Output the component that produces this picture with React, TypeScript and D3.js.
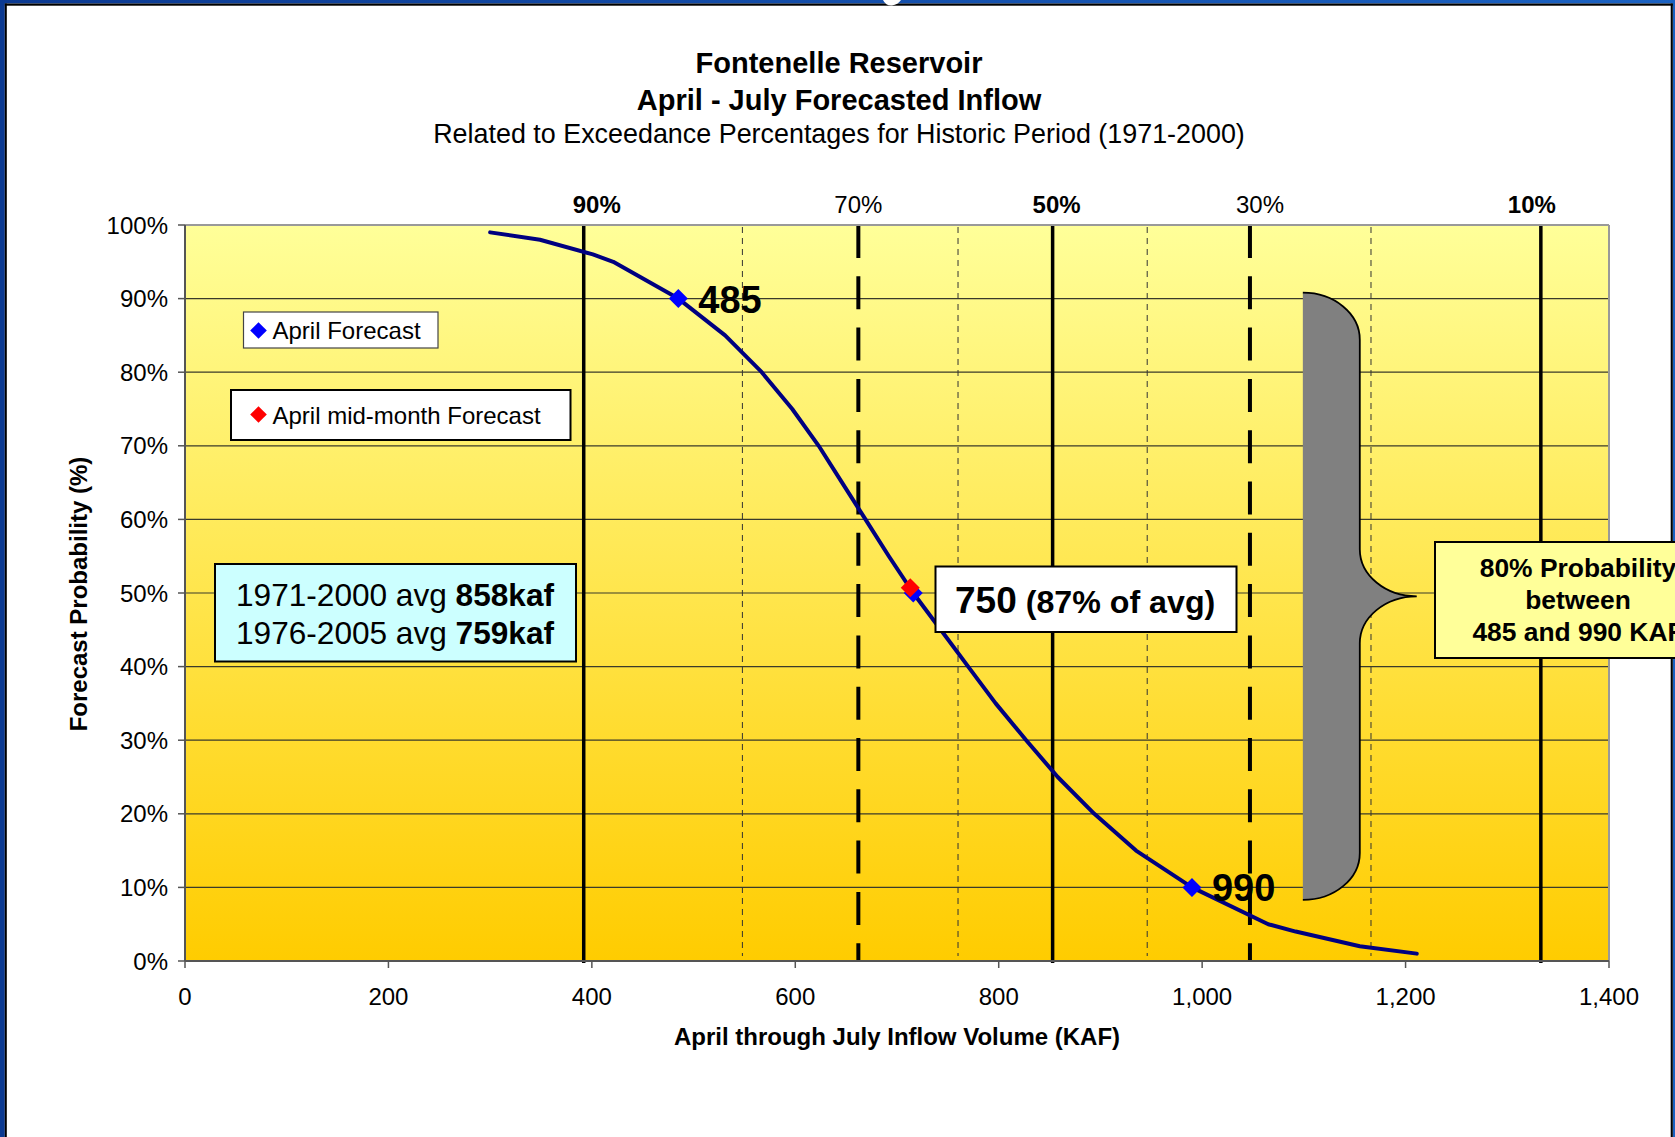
import React from 'react';
import * as d3 from 'd3';

// Exceedance curve: April–July inflow volume (KAF) by exceedance probability (%)
const exceedancePct = [99, 98, 96, 95, 90, 85, 80, 75, 70, 65, 60, 55, 50, 45, 40, 35, 30, 25, 20, 15, 10, 5, 4, 2, 1];
const inflowKaf = [300, 349, 401, 421, 485, 531, 567, 597, 623, 646, 669, 692, 716, 743, 770, 797, 827, 858, 894, 935, 990, 1065, 1092, 1155, 1211];

// April forecast points (blue) and April mid-month forecast (red)
const aprilForecastKaf = [485, 716, 990];
const aprilForecastPct = [90, 50, 10];
const aprilLabelText = ['485', '', '990'];
const midMonthKaf = [713];
const midMonthPct = [50.7];

// Historic exceedance reference lines (1971-2000)
const refPct = [90, 80, 70, 60, 50, 40, 30, 20, 10];
const refKaf = [392, 548, 662, 760, 853, 946, 1047, 1166, 1333];

const xTicks = [0, 200, 400, 600, 800, 1000, 1200, 1400];
const yTicks = [0, 10, 20, 30, 40, 50, 60, 70, 80, 90, 100];

// Range bracket spanning the 90%..10% forecasts (kaf / pct)
const braceKaf = [1099, 1155, 1211];
const bracePct = [90.8, 8.3];

const W = 1675;
const H = 1137;
const M = { left: 185, right: 1609, top: 225, bottom: 961 };
const FONT = '"Liberation Sans", Arial, Helvetica, sans-serif';

const refStyle = (p: number) =>
  p === 90 || p === 50 || p === 10 ? 'solid' : p === 70 || p === 30 ? 'heavy' : 'light';
const topLabelShift: Record<number, number> = { 90: 13, 70: 0, 50: 4, 30: 10, 10: -9 };

function Diamond({ cx, cy, r, fill }: { cx: number; cy: number; r: number; fill: string }) {
  return <path d={`M${cx},${cy - r}L${cx + r},${cy}L${cx},${cy + r}L${cx - r},${cy}Z`} fill={fill} />;
}

export default function App() {
  const x = d3.scaleLinear().domain([0, 1400]).range([M.left, M.right]);
  const y = d3.scaleLinear().domain([0, 100]).range([M.bottom, M.top]);

  const curve = d3
    .line<number>()
    .x((_, i) => x(inflowKaf[i]))
    .y((d) => y(d))(exceedancePct) as string;

  // bracket geometry
  const bx0 = x(braceKaf[0]);
  const bx1 = x(braceKaf[1]);
  const bx2 = x(braceKaf[2]);
  const by0 = y(bracePct[0]);
  const by1 = y(bracePct[1]);
  const bym = (by0 + by1) / 2;
  const rx = bx1 - bx0;
  const ry = 47;
  const braceOutline =
    `M${bx0},${by0} A${rx},${ry} 0 0 1 ${bx1},${by0 + ry} L${bx1},${bym - ry} ` +
    `A${bx2 - bx1},${ry} 0 0 0 ${bx2},${bym} A${bx2 - bx1},${ry} 0 0 0 ${bx1},${bym + ry} ` +
    `L${bx1},${by1 - ry} A${rx},${ry} 0 0 1 ${bx0},${by1}`;

  const fmt = d3.format(',');

  return (
    <svg
      width={W}
      height={H}
      viewBox={`0 0 ${W} ${H}`}
      style={{ position: 'absolute', left: 0, top: 0, background: '#fff' }}
      fontFamily={FONT}
    >
      <defs>
        <linearGradient id="plotBg" x1="0" y1="0" x2="0" y2="1">
          <stop offset="0" stopColor="#FFFF99" />
          <stop offset="1" stopColor="#FFCC00" />
        </linearGradient>
        <linearGradient id="frameBlue" x1="0" y1="0" x2="1" y2="0">
          <stop offset="0" stopColor="#0C3A92" />
          <stop offset="1" stopColor="#1B62C2" />
        </linearGradient>
      </defs>

      <rect x={0} y={0} width={W} height={H} fill="#fff" />

      {/* slide frame */}
      <rect x={0} y={0} width={W} height={3.5} fill="url(#frameBlue)" />
      <rect x={0} y={0} width={4.8} height={H} fill="#0C3A92" />
      <rect x={1672.8} y={0} width={3} height={H} fill="#1B62C2" />
      <rect x={4.8} y={3.5} width={W - 4.8 - 2.2} height={2.2} fill="#000" />
      <rect x={4.8} y={3.5} width={2} height={H} fill="#000" />
      <rect x={1670.7} y={3.5} width={2.1} height={H} fill="#000" />
      <path d="M883,0 Q886,6 892,5.5 Q898,4.5 901,0 Z" fill="#fff" />

      {/* titles */}
      <text x={839} y={72.5} textAnchor="middle" fontSize={29} fontWeight="bold">
        Fontenelle Reservoir
      </text>
      <text x={839} y={109.5} textAnchor="middle" fontSize={29} fontWeight="bold">
        April - July Forecasted Inflow
      </text>
      <text x={839} y={143} textAnchor="middle" fontSize={26.9}>
        Related to Exceedance Percentages for Historic Period (1971-2000)
      </text>

      {/* plot area */}
      <rect x={M.left} y={M.top} width={M.right - M.left} height={M.bottom - M.top} fill="url(#plotBg)" />

      {yTicks.map((t) => (
        <line key={`g${t}`} x1={M.left} x2={M.right} y1={y(t)} y2={y(t)} stroke="#3a3a2a" strokeWidth={1.2} />
      ))}

      {/* exceedance reference lines */}
      {refPct.map((p, i) => {
        const s = refStyle(p);
        const xx = x(refKaf[i]);
        if (s === 'light')
          return (
            <line key={`r${p}`} x1={xx} x2={xx} y1={M.top + 2} y2={M.bottom - 5} stroke="#333" strokeWidth={1} strokeDasharray="6,5" />
          );
        return (
          <line
            key={`r${p}`}
            x1={xx}
            x2={xx}
            y1={M.top}
            y2={M.bottom + (s === 'solid' ? 2 : 0)}
            stroke="#000"
            strokeWidth={s === 'solid' ? 3.5 : 4}
            strokeDasharray={s === 'heavy' ? '33,18.3' : undefined}
          />
        );
      })}
      {refPct.map((p, i) => {
        const s = refStyle(p);
        if (s === 'light') return null;
        return (
          <text
            key={`rl${p}`}
            x={x(refKaf[i]) + topLabelShift[p]}
            y={213}
            textAnchor="middle"
            fontSize={24}
            fontWeight={s === 'solid' ? 'bold' : 'normal'}
          >
            {p}%
          </text>
        );
      })}

      {/* plot border and axes */}
      <line x1={M.left} x2={M.right} y1={M.top} y2={M.top} stroke="#999" strokeWidth={2} />
      <line x1={M.right} x2={M.right} y1={M.top} y2={M.bottom} stroke="#999" strokeWidth={2} />
      <line x1={M.left} x2={M.left} y1={M.top} y2={M.bottom} stroke="#555" strokeWidth={2} />
      <line x1={M.left} x2={M.right} y1={M.bottom} y2={M.bottom} stroke="#555" strokeWidth={2} />

      {yTicks.map((t) => (
        <g key={`yt${t}`}>
          <line x1={M.left - 7} x2={M.left} y1={y(t)} y2={y(t)} stroke="#555" strokeWidth={1.5} />
          <text x={168} y={y(t) + 8.5} textAnchor="end" fontSize={24}>
            {t}%
          </text>
        </g>
      ))}
      {xTicks.map((t) => (
        <g key={`xt${t}`}>
          <line x1={x(t)} x2={x(t)} y1={M.bottom} y2={M.bottom + 7} stroke="#555" strokeWidth={1.5} />
          <text x={x(t)} y={1005} textAnchor="middle" fontSize={24}>
            {fmt(t)}
          </text>
        </g>
      ))}

      <text x={897} y={1045} textAnchor="middle" fontSize={24} fontWeight="bold">
        April through July Inflow Volume (KAF)
      </text>
      <text transform="translate(87,594) rotate(-90)" textAnchor="middle" fontSize={24} fontWeight="bold">
        Forecast Probability (%)
      </text>

      {/* exceedance curve */}
      <path d={curve} fill="none" stroke="#000080" strokeWidth={4} strokeLinejoin="round" strokeLinecap="round" />

      {aprilForecastKaf.map((k, i) => (
        <Diamond key={`a${i}`} cx={x(k)} cy={y(aprilForecastPct[i])} r={9.5} fill="#0000FF" />
      ))}
      {midMonthKaf.map((k, i) => (
        <Diamond key={`m${i}`} cx={x(k)} cy={y(midMonthPct[i])} r={9.5} fill="#FF0000" />
      ))}
      {aprilForecastKaf.map((k, i) =>
        aprilLabelText[i] ? (
          <text key={`al${i}`} x={x(k) + 20} y={y(aprilForecastPct[i]) + 14} fontSize={38} fontWeight="bold">
            {aprilLabelText[i]}
          </text>
        ) : null
      )}

      {/* range bracket */}
      <path d={braceOutline + 'Z'} fill="#808080" stroke="none" />
      <path d={braceOutline} fill="none" stroke="#000" strokeWidth={1.8} />

      {/* legend */}
      <rect x={243.5} y={312} width={194.5} height={36} fill="#fff" stroke="#444" strokeWidth={1.2} />
      <Diamond cx={258.5} cy={330.5} r={8.3} fill="#0000FF" />
      <text x={272.5} y={339} fontSize={24}>
        April Forecast
      </text>
      <rect x={231} y={390} width={339.5} height={50} fill="#fff" stroke="#000" strokeWidth={2} />
      <Diamond cx={258.5} cy={414.5} r={8.3} fill="#FF0000" />
      <text x={272.5} y={424} fontSize={24}>
        April mid-month Forecast
      </text>

      {/* averages */}
      <rect x={215} y={564} width={361} height={97.5} fill="#CCFFFF" stroke="#000" strokeWidth={2} />
      <text x={395} y={606} textAnchor="middle" fontSize={31.6}>
        1971-2000 avg <tspan fontWeight="bold">858kaf</tspan>
      </text>
      <text x={395} y={643.5} textAnchor="middle" fontSize={31.6}>
        1976-2005 avg <tspan fontWeight="bold">759kaf</tspan>
      </text>

      {/* forecast callout */}
      <rect x={935.5} y={566.5} width={301} height={65.5} fill="#fff" stroke="#000" strokeWidth={2} />
      <text x={955} y={612.5} fontWeight="bold">
        <tspan fontSize={37}>750</tspan>
        <tspan fontSize={32.2}> (87% of avg)</tspan>
      </text>

      {/* probability range box */}
      <rect x={1435} y={542} width={290} height={116} fill="#FFFF99" stroke="#000" strokeWidth={2} />
      <text x={1578} y={577} textAnchor="middle" fontSize={26.4} fontWeight="bold">
        80% Probability
      </text>
      <text x={1578} y={609} textAnchor="middle" fontSize={26.4} fontWeight="bold">
        between
      </text>
      <text x={1578} y={641} textAnchor="middle" fontSize={26.4} fontWeight="bold">
        485 and 990 KAF
      </text>
    </svg>
  );
}
